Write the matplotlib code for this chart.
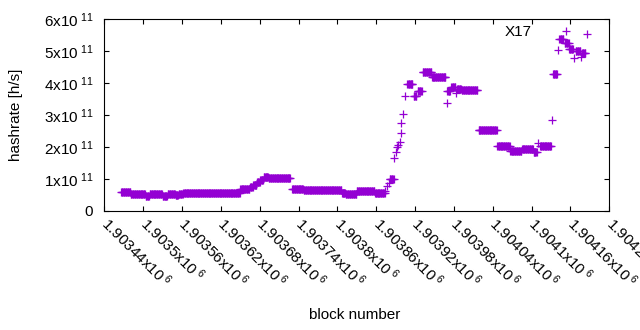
import numpy as np
import matplotlib
matplotlib.use('Agg')
import matplotlib.pyplot as plt

plt.rcParams['font.family'] = ['Liberation Sans', 'DejaVu Sans']
plt.rcParams['mathtext.fontset'] = 'custom'
plt.rcParams['mathtext.rm'] = 'Liberation Sans'
plt.rcParams['mathtext.default'] = 'regular'

# runs of blocks with the same hashrate (start block, end block, hashrate in 1e11 h/s)
run_start = [1903466, 1903481, 1903504, 1903510, 1903530, 1903538, 1903550, 1903555,
             1903562, 1903650, 1903665, 1903670, 1903676, 1903681, 1903686, 1903694,
             1903730, 1903748, 1903807, 1903813, 1903830, 1903858, 1903881, 1903908,
             1903918, 1903924, 1903932, 1903946, 1903970, 1903976, 1903985, 1903992,
             1904018, 1904047, 1904067, 1904085, 1904103, 1904113, 1904133, 1904143,
             1904151, 1904158, 1904168, 1904178]
run_end = [1903480, 1903503, 1903509, 1903529, 1903537, 1903549, 1903554, 1903561,
           1903649, 1903664, 1903669, 1903675, 1903680, 1903685, 1903693, 1903727,
           1903747, 1903806, 1903812, 1903829, 1903857, 1903873, 1903887, 1903916,
           1903922, 1903930, 1903945, 1903967, 1903974, 1903982, 1903991, 1904016,
           1904046, 1904066, 1904084, 1904102, 1904108, 1904130, 1904139, 1904149,
           1904157, 1904164, 1904175, 1904183]
run_rate = [0.58, 0.52, 0.48, 0.52, 0.48, 0.53, 0.49, 0.52,
            0.55, 0.69, 0.75, 0.82, 0.91, 0.98, 1.06, 1.03,
            0.70, 0.67, 0.57, 0.52, 0.62, 0.55, 1.00, 3.99,
            3.60, 3.75, 4.35, 4.18, 3.76, 3.88, 3.83, 3.80,
            2.55, 2.02, 1.88, 1.93, 1.85, 2.04, 4.30, 5.37,
            5.26, 5.08, 5.01, 4.95]

# isolated blocks
single_block = [1903874, 1903876, 1903879, 1903888, 1903890, 1903892, 1903894, 1903896,
                1903898, 1903899, 1903902, 1903904, 1903969, 1903983, 1904110, 1904132,
                1904141, 1904166, 1904176, 1904186]
single_rate = [0.63, 0.78, 0.88, 1.65, 1.85, 1.99, 2.06, 2.17,
               2.45, 2.76, 3.05, 3.59, 3.37, 3.68, 2.13, 2.84,
               5.03, 4.80, 4.82, 5.55]

x_ticks = [1903440, 1903500, 1903560, 1903620, 1903680, 1903740, 1903800,
           1903860, 1903920, 1903980, 1904040, 1904100, 1904160, 1904220]
x_tick_labels = ['1.90344', '1.9035', '1.90356', '1.90362', '1.90368', '1.90374', '1.9038',
                 '1.90386', '1.90392', '1.90398', '1.90404', '1.9041', '1.90416', '1.90422']
y_ticks = [0, 1, 2, 3, 4, 5, 6]

blocks = []
rates = []
for s, e, r in zip(run_start, run_end, run_rate):
    b = np.arange(s, e + 1)
    blocks.append(b)
    rates.append(np.full(len(b), r))
blocks.append(np.array(single_block))
rates.append(np.array(single_rate))
blocks = np.concatenate(blocks)
rates = np.concatenate(rates) * 1e11
order = np.argsort(blocks)

fig = plt.figure(figsize=(6.4, 3.3), dpi=100)
ax = fig.add_axes([104.3 / 640, 1 - 211 / 330, 505 / 640, 191.7 / 330])

ax.plot(blocks[order], rates[order], linestyle='none', marker='+', markersize=6,
        markeredgewidth=0.9, color='#9400D3', label='X17')

ax.set_xlim(1903440, 1904220)
ax.set_ylim(0, 6e11)
ax.set_xticks(x_ticks)
ax.set_xticklabels([t + r'x10$^{\;6}$' for t in x_tick_labels], rotation=-45,
                   ha='left', va='center', rotation_mode='anchor', fontsize=11)
ax.set_yticks([v * 1e11 for v in y_ticks])
ax.set_yticklabels(['0' if v == 0 else '%dx10$^{\\;11}$' % v for v in y_ticks], fontsize=11)
ax.tick_params(direction='in', length=3.5, width=0.8, top=True, right=True)
ax.tick_params(axis='y', pad=8)
ax.tick_params(axis='x', pad=7)
for sp in ax.spines.values():
    sp.set_linewidth(0.8)

ax.set_xlabel('block number', fontsize=11)
ax.set_ylabel('hashrate [h/s]', fontsize=11)
ax.xaxis.set_label_coords(0.495, -0.505)
ax.yaxis.set_label_coords(-0.16, 0.5)

ax.legend(loc='upper right', bbox_to_anchor=(0.956, 0.984), markerfirst=False,
          frameon=False, handlelength=2.3, handletextpad=1.15, borderpad=0.2,
          borderaxespad=0, fontsize=11)

plt.savefig('out.png', dpi=100)
